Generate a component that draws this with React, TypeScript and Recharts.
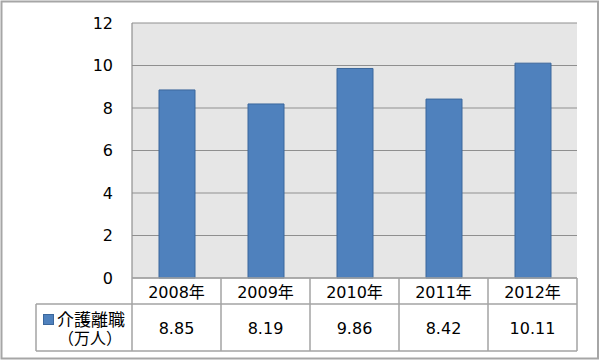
import React from "react";
import { BarChart, Bar, XAxis, YAxis, CartesianGrid } from "recharts";

const categories = ["2008年", "2009年", "2010年", "2011年", "2012年"];
const values = [8.85, 8.19, 9.86, 8.42, 10.11];
const valueLabels = ["8.85", "8.19", "9.86", "8.42", "10.11"];
const yTicks = [0, 2, 4, 6, 8, 10, 12];
const seriesName = "介護離職";
const seriesUnit = "（万人）";

const data = categories.map((c, i) => ({ category: c, value: values[i], label: valueLabels[i] }));

const FONT = "'DejaVu Sans', 'Noto Sans CJK JP', sans-serif";
const W = 600;
const H = 361;
const PL = 132;
const PR = 577;
const PT = 23;
const PB = 278;
const ROW1 = 304;
const ROW2 = 351;
const LEG_L = 36;
const LINE = "#a3a3a3";
const BAR_FILL = "#4F81BD";
const BAR_STROKE = "#3B679C";

const TableTick = (props: any) => {
  const { x, payload } = props;
  const idx = payload.index;
  return (
    <g>
      <text x={x} y={292} textAnchor="middle" dominantBaseline="central" fontSize={16} fill="#000" fontFamily={FONT}>
        {payload.value}
      </text>
      <text x={x} y={328.5} textAnchor="middle" dominantBaseline="central" fontSize={16} fill="#000" fontFamily={FONT}>
        {data[idx] ? data[idx].label : ""}
      </text>
    </g>
  );
};

export default function App() {
  const n = categories.length;
  const band = (PR - PL) / n;
  const seps = Array.from({ length: n + 1 }, (_, k) => PL + band * k);
  return (
    <div style={{ position: "fixed", left: 0, top: 0, width: W, height: H, background: "#fff" }}>
      <BarChart
        width={W}
        height={H}
        data={data}
        margin={{ top: PT, right: W - PR, left: 0, bottom: 0 }}
        barCategoryGap="30%"
      >
        <CartesianGrid vertical={false} fill="#e6e6e6" stroke="#8f8f8f" strokeWidth={1.2} />
        <YAxis
          width={PL}
          domain={[0, 12]}
          ticks={yTicks}
          interval={0}
          axisLine={{ stroke: "#8f8f8f", strokeWidth: 1.2 }}
          tickLine={false}
          tickSize={0}
          tickMargin={19}
          tick={{ fontSize: 16, fill: "#000", fontFamily: FONT }}
        />
        <XAxis
          dataKey="category"
          height={H - PB}
          axisLine={false}
          tickLine={false}
          interval={0}
          tick={<TableTick />}
        />
        <Bar dataKey="value" barSize={36} fill={BAR_FILL} stroke={BAR_STROKE} strokeWidth={1} isAnimationActive={false} />
      </BarChart>
      <svg width={W} height={H} style={{ position: "absolute", left: 0, top: 0, pointerEvents: "none" }}>
        <rect x={1.5} y={1.5} width={596.5} height={357} fill="none" stroke="#a6a6a6" strokeWidth={2} />
        <line x1={PL} y1={PB} x2={PR} y2={PB} stroke={LINE} strokeWidth={1.5} />
        <line x1={LEG_L} y1={ROW1} x2={PR} y2={ROW1} stroke={LINE} strokeWidth={1.5} />
        <line x1={LEG_L} y1={ROW2} x2={PR} y2={ROW2} stroke={LINE} strokeWidth={1.5} />
        <line x1={LEG_L} y1={ROW1} x2={LEG_L} y2={ROW2} stroke={LINE} strokeWidth={1.5} />
        {seps.map((sx, k) => (
          <line key={k} x1={sx} y1={PB} x2={sx} y2={ROW2} stroke={LINE} strokeWidth={1.5} />
        ))}
        <rect x={43.5} y={314.5} width={10} height={10} fill={BAR_FILL} stroke={BAR_STROKE} strokeWidth={1} />
        <text x={57} y={320} dominantBaseline="central" fontSize={17} fill="#000" fontFamily={FONT}>
          {seriesName}
        </text>
        <text x={90} y={338} textAnchor="middle" dominantBaseline="central" fontSize={16} fill="#000" fontFamily={FONT}>
          {seriesUnit}
        </text>
      </svg>
    </div>
  );
}
